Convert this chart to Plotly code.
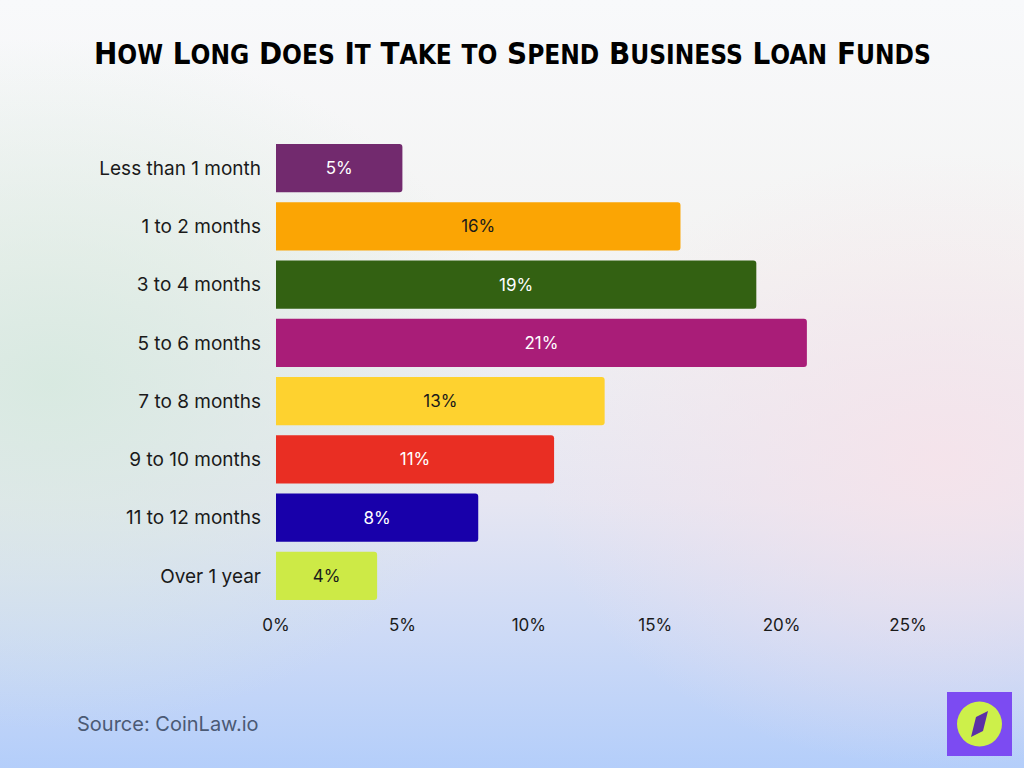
import base64
import plotly.graph_objects as go

categories = ["Less than 1 month", "1 to 2 months", "3 to 4 months", "5 to 6 months",
              "7 to 8 months", "9 to 10 months", "11 to 12 months", "Over 1 year"]
values = [5, 16, 19, 21, 13, 11, 8, 4]
bar_colors = ["#722a6e", "#fba504", "#336112", "#a91d78", "#fed22f", "#e92e23", "#1800aa", "#cdea46"]
label_colors = ["#ffffff", "#1a1a1a", "#ffffff", "#ffffff", "#1a1a1a", "#ffffff", "#ffffff", "#1a1a1a"]
tick_vals = [0, 5, 10, 15, 20, 25]
tick_text = ["0%", "5%", "10%", "15%", "20%", "25%"]

W, H = 1024, 768
L, R, T, B = 276, 116, 139, 163

svg = f'''<svg xmlns="http://www.w3.org/2000/svg" width="{W}" height="{H}" viewBox="0 0 {W} {H}">
<defs>
<linearGradient id="v" x1="0" y1="0" x2="0" y2="1">
<stop offset="0" stop-color="#f8f9fb"/>
<stop offset="0.35" stop-color="#f3f3f2"/>
<stop offset="0.65" stop-color="#e6e6f2"/>
<stop offset="1" stop-color="#b4cefa"/>
</linearGradient>
<radialGradient id="g" cx="0.05" cy="0.5" r="0.45">
<stop offset="0" stop-color="#d6e9df" stop-opacity="0.9"/>
<stop offset="1" stop-color="#d6e9df" stop-opacity="0"/>
</radialGradient>
<radialGradient id="p" cx="0.92" cy="0.6" r="0.4">
<stop offset="0" stop-color="#f6e3ea" stop-opacity="0.9"/>
<stop offset="1" stop-color="#f6e3ea" stop-opacity="0"/>
</radialGradient>
</defs>
<rect width="{W}" height="{H}" fill="url(#v)"/>
<rect width="{W}" height="{H}" fill="url(#g)"/>
<rect width="{W}" height="{H}" fill="url(#p)"/>
</svg>'''
bg_uri = "data:image/svg+xml;base64," + base64.b64encode(svg.encode()).decode()

pw, ph = W - L - R, H - T - B

fig = go.Figure(go.Bar(
    x=values, y=categories, orientation="h",
    marker=dict(color=bar_colors, cornerradius=3, line=dict(width=0)),
    text=[f"{v}%" for v in values], textposition="inside", insidetextanchor="middle",
    textfont=dict(family="Inter", size=17, color=label_colors),
    hoverinfo="skip",
))

BIG, SMALL = 31, 26

def sc(word):
    if word == "to":
        return f"<span style='font-size:{SMALL}px'>{word.upper()}</span>"
    return word[0] + f"<span style='font-size:{SMALL}px'>{word[1:].upper()}</span>"

title_words = "How Long Does It Take to Spend Business Loan Funds".split()
title_html = " ".join(sc(w) for w in title_words)

fig.update_layout(
    width=W, height=H,
    margin=dict(l=L, r=R, t=T, b=B),
    paper_bgcolor="rgba(0,0,0,0)", plot_bgcolor="rgba(0,0,0,0)",
    showlegend=False,
    bargap=0.17,
    xaxis=dict(range=[0, 25], tickvals=tick_vals, ticktext=tick_text, showgrid=False,
               zeroline=False, showline=False, ticks="", ticklabelstandoff=8,
               tickfont=dict(family="Inter", size=17, color="#1a1a1a"), fixedrange=True),
    yaxis=dict(autorange="reversed", showgrid=False, zeroline=False, showline=False,
               ticks="", ticklabelstandoff=14,
               tickfont=dict(family="Inter", size=19, color="#1a1a1a"), fixedrange=True),
    images=[dict(source=bg_uri, xref="paper", yref="paper", x=-L / pw, y=1 + T / ph,
                 sizex=W / pw, sizey=H / ph, xanchor="left", yanchor="top",
                 sizing="stretch", layer="below")],
    annotations=[
        dict(text=title_html, xref="paper", yref="paper", x=(512 - L) / pw, y=1 + (T - 53) / ph,
             xanchor="center", yanchor="middle", showarrow=False,
             font=dict(family="DejaVu Sans Condensed", size=BIG, color="#000000", weight="bold")),
        dict(text="Source: CoinLaw.io", xref="paper", yref="paper", x=(75 - L) / pw,
             y=-(724 - (T + ph)) / ph, xanchor="left", yanchor="middle", showarrow=False,
             font=dict(family="Inter", size=20, color="#4b5a74")),
    ],
)

def px(x):
    return (x - L) / pw

def py(y):
    return 1 - (y - T) / ph

shapes = [
    dict(type="rect", xref="paper", yref="paper", x0=px(947), x1=px(1012), y0=py(756), y1=py(692),
         fillcolor="#7c4bf2", line=dict(width=0)),
    dict(type="circle", xref="paper", yref="paper", x0=px(957), x1=px(1002), y0=py(746.5), y1=py(701.5),
         fillcolor="#cdf04a", line=dict(width=0)),
    dict(type="path", xref="paper", yref="paper",
         path=f"M {px(988)} {py(711)} L {px(983)} {py(731)} L {px(971)} {py(737)} L {px(976)} {py(717)} Z",
         fillcolor="#5b2fa6", line=dict(width=0)),
]
fig.update_layout(shapes=shapes)

fig.write_html("out.html", config={"displayModeBar": False, "staticPlot": True},
               post_script="document.body.style.margin='0';document.body.style.padding='0';")
